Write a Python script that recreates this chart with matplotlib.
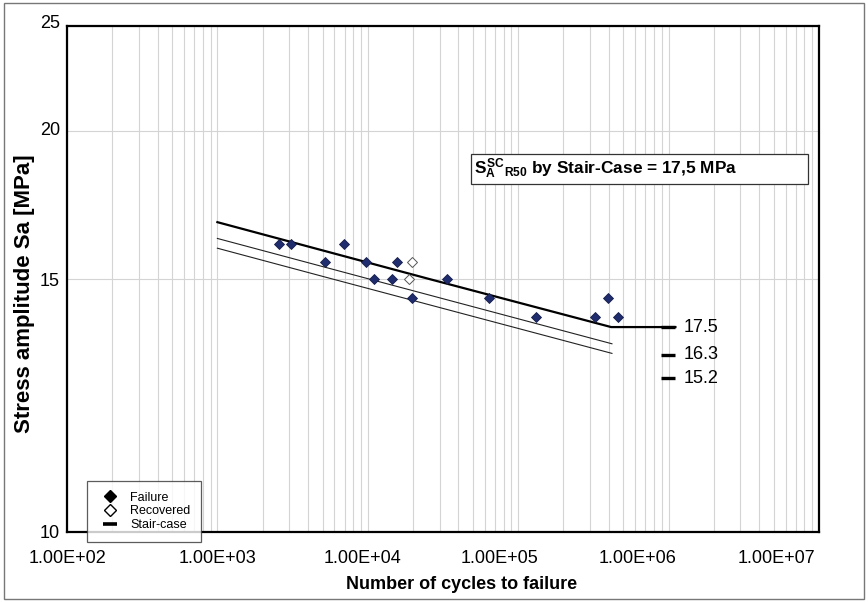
import numpy as np
import matplotlib
matplotlib.use("Agg")
import matplotlib.pyplot as plt
from matplotlib.lines import Line2D
from matplotlib.patches import Rectangle
from matplotlib.ticker import LogLocator, FixedLocator, NullFormatter, FuncFormatter
from matplotlib.transforms import ScaledTranslation

plt.rcParams['font.family'] = ['Liberation Sans', 'DejaVu Sans']
plt.rcParams['mathtext.fontset'] = 'custom'
plt.rcParams['mathtext.rm'] = 'Liberation Sans:bold'
plt.rcParams['mathtext.it'] = 'Liberation Sans:bold'
plt.rcParams['mathtext.bf'] = 'Liberation Sans:bold'

# ---------------- data ----------------
failure_cycles = [2550, 3080, 5190, 6900, 9750, 10970, 14500, 15560, 19770,
                  33700, 64000, 131000, 324000, 394000, 459000]
failure_stress = [16.17, 16.17, 15.58, 16.17, 15.58, 15.0, 15.0, 15.58, 14.62,
                  15.0, 14.62, 14.24, 14.24, 14.62, 14.24]
recovered_cycles = [19540, 18700]
recovered_stress = [15.58, 15.0]

curve50_cycles = [1.0e3, 2.56e4, 4.15e5, 1.11e6]
curve50_stress = [16.92, 15.0, 14.05, 14.05]
curve_b_cycles = [1.0e3, 1.02e4, 4.2e5]
curve_b_stress = [16.37, 15.0, 13.72]
curve_c_cycles = [1.0e3, 5.82e3, 4.2e5]
curve_c_stress = [16.04, 15.0, 13.53]

sc_labels = ["17.5", "16.3", "15.2"]
sc_levels = [14.05, 13.50, 13.04]
sc_dash_cycles = [8.85e5, 1.11e6]

y_ticks = [10, 15, 20, 25]
y_tick_pos = [0, 253, 401, 506]
x_ticks = [1e2, 1e3, 1e4, 1e5, 1e6, 1e7]
x_tick_labels = ["1.00E+02", "1.00E+03", "1.00E+04", "1.00E+05", "1.00E+06", "1.00E+07"]
x_label_shift_px = [0, 0, -5, -19, -31, -43]

# ---------------- y scale (as labelled on the chart) ----------------
_yv = np.array([0.0] + y_ticks + [100.0])
_yp = np.array([-506.0] + y_tick_pos + [2081.0])

def fwd(v):
    return np.interp(v, _yv, _yp)

def inv(p):
    return np.interp(p, _yp, _yv)

W, H = 868, 602
fig = plt.figure(figsize=(W / 100, H / 100), dpi=100)
ax = fig.add_axes([67 / W, 1 - 532 / H, 752 / W, 506 / H])
ax.set_xscale('log')
ax.set_yscale('function', functions=(fwd, inv))
ax.set_xlim(1e2, 1e7)
ax.set_ylim(10, 25)

# grid
ax.xaxis.set_major_locator(FixedLocator(x_ticks))
ax.xaxis.set_minor_locator(LogLocator(base=10, subs=np.arange(2, 10), numticks=20))
ax.xaxis.set_minor_formatter(NullFormatter())
ax.yaxis.set_major_locator(FixedLocator(y_ticks))
ax.yaxis.set_minor_locator(FixedLocator([]))
ax.yaxis.set_major_formatter(FuncFormatter(lambda v, p: f"{v:g}"))
ax.set_xticklabels(x_tick_labels)
ax.grid(True, which='both', axis='x', color='#d4d4d4', lw=0.8)
ax.grid(True, which='major', axis='y', color='#d4d4d4', lw=0.8)
ax.set_axisbelow(True)
ax.tick_params(which='both', length=0)
ax.tick_params(axis='x', pad=13, labelsize=13)
ax.tick_params(axis='y', pad=5, labelsize=13)
for lab, sh in zip(ax.get_xticklabels(), x_label_shift_px):
    lab.set_transform(lab.get_transform() + ScaledTranslation(sh / 100, 0, fig.dpi_scale_trans))
ylabs = ax.get_yticklabels()
ylabs[-1].set_transform(ylabs[-1].get_transform() + ScaledTranslation(0, 5 / 100, fig.dpi_scale_trans))
ylabs[-2].set_transform(ylabs[-2].get_transform() + ScaledTranslation(0, 3 / 100, fig.dpi_scale_trans))

for s in ax.spines.values():
    s.set_linewidth(1.6)
    s.set_color('black')

# curves
ax.plot(curve50_cycles, curve50_stress, color='black', lw=1.6, zorder=3)
ax.plot(curve_b_cycles, curve_b_stress, color='#222222', lw=0.8, zorder=3)
ax.plot(curve_c_cycles, curve_c_stress, color='#222222', lw=0.8, zorder=3)
for lev in sc_levels:
    ax.plot(sc_dash_cycles, [lev, lev], color='black', lw=2.4, solid_capstyle='butt', zorder=3)
for lab, lev in zip(sc_labels, sc_levels):
    ax.annotate(lab, (sc_dash_cycles[1], lev), xytext=(6, 0), textcoords='offset points',
                va='center', ha='left', fontsize=13)

# points
ax.plot(failure_cycles, failure_stress, ls='none', marker='D', ms=5.2,
        mfc='#1f2d6e', mec='#141c4a', mew=0.6, zorder=4)
ax.plot(recovered_cycles, recovered_stress, ls='none', marker='D', ms=5.2,
        mfc='white', mec='#555555', mew=0.7, zorder=4)

# labels
ax.set_xlabel("Number of cycles to failure", fontsize=13, fontweight='bold')
ax.xaxis.set_label_coords((462 - 67) / 752, -(576 - 532) / 506)
ax.set_ylabel("Stress amplitude Sa [MPa]", fontsize=16, fontweight='bold')
ax.yaxis.set_label_coords(-(67 - 35) / 752, (532 - 294) / 506)

# annotation box
fig.patches.append(Rectangle((471 / W, 1 - 184 / H), 337 / W, 30 / H, transform=fig.transFigure,
                             facecolor='white', edgecolor='#333333', lw=0.9, zorder=5))
fig.text(474 / W, 1 - 169 / H, r'$S_A^{SC}{}_{R50}$ by Stair-Case = 17,5 MPa',
         fontsize=12.4, fontweight='bold', va='center', ha='left', zorder=6)

# legend
handles = [Line2D([], [], ls='none', marker='D', ms=6.5, mfc='black', mec='black'),
           Line2D([], [], ls='none', marker='D', ms=6.5, mfc='white', mec='black', mew=1),
           Line2D([], [], ls='none', marker='_', ms=10, mec='black', mew=2.6)]
leg = fig.legend(handles, ["Failure", "Recovered", "Stair-case"], loc='upper left',
                 bbox_to_anchor=(87 / W, 1 - 481 / H), borderaxespad=0, fontsize=9,
                 frameon=True, fancybox=False, handlelength=2.0, handletextpad=0.6,
                 labelspacing=0.15, borderpad=0.85)
leg.get_frame().set_edgecolor('#333333')
leg.get_frame().set_linewidth(0.9)

# outer frame
fig.patches.append(Rectangle((4 / W, 3 / H), 860 / W, 596 / H, transform=fig.transFigure,
                             facecolor='none', edgecolor='#777777', lw=1.0))

fig.savefig("out.png", dpi=100)
